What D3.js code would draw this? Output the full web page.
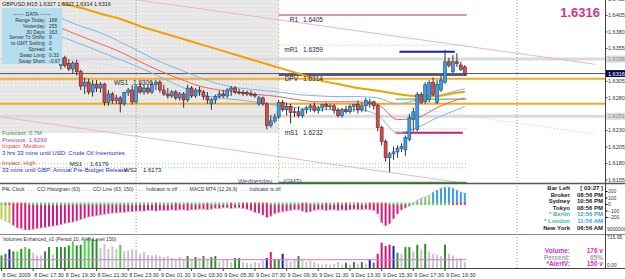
<!DOCTYPE html>
<html lang="en">
<head>
<meta charset="UTF-8">
<title>GBPUSD,M15</title>
<script src="https://d3js.org/d3.v7.min.js"></script>
<style>
  body { margin: 0; padding: 0; background: #fff; }
  svg { display: block; font-family: "Liberation Sans", Arial, sans-serif; }
</style>
</head>
<body>
<script>
// ---- data ----
var firstCandle = 15;   // bars before this are hidden behind the info box
var openP = [1.6328,1.6340,1.6331,1.6323,1.6332, 1.6319,1.6297,1.6303,1.6288,1.6300,
  1.6294,1.6300,1.6272,1.6285,1.6275, 1.6279,1.6270,1.6287,1.6291,1.6273,
  1.6296,1.6288,1.6294,1.6288,1.6299, 1.6303,1.6291,1.6285,1.6282,1.6288,
  1.6279,1.6285,1.6276,1.6294,1.6282, 1.6291,1.6288,1.6281,1.6270,1.6276,
  1.6281,1.6285,1.6282,1.6291,1.6294, 1.6288,1.6287,1.6287,1.6285,1.6284,
  1.6270,1.6279,1.6270,1.6237,1.6244, 1.6250,1.6272,1.6261,1.6266,1.6257,
  1.6258,1.6252,1.6261,1.6264,1.6267, 1.6260,1.6264,1.6269,1.6266,1.6267,
  1.6260,1.6252,1.6261,1.6258,1.6266, 1.6269,1.6261,1.6267,1.6270,1.6273,
  1.6267,1.6234,1.6213,1.6188,1.6194, 1.6197,1.6202,1.6200,1.6216,1.6246,
  1.6231,1.6284,1.6273,1.6276,1.6303, 1.6272,1.6291,1.6303,1.6334,1.6319,
  1.6334,1.6329,1.6326];
var highP = [1.6344,1.6343,1.6338,1.6335,1.6337, 1.6322,1.6310,1.6308,1.6306,1.6306,
  1.6303,1.6302,1.6291,1.6288,1.6284, 1.6282,1.6288,1.6294,1.6299,1.6300,
  1.6302,1.6299,1.6299,1.6303,1.6306, 1.6306,1.6299,1.6294,1.6291,1.6291,
  1.6288,1.6288,1.6299,1.6297,1.6294, 1.6296,1.6291,1.6288,1.6279,1.6284,
  1.6290,1.6291,1.6294,1.6297,1.6297, 1.6293,1.6291,1.6290,1.6290,1.6287,
  1.6282,1.6281,1.6272,1.6253,1.6255, 1.6276,1.6276,1.6272,1.6270,1.6264,
  1.6266,1.6263,1.6267,1.6270,1.6272, 1.6267,1.6270,1.6272,1.6270,1.6270,
  1.6264,1.6264,1.6267,1.6269,1.6270, 1.6275,1.6272,1.6279,1.6278,1.6275,
  1.6270,1.6237,1.6216,1.6197,1.6205, 1.6207,1.6210,1.6222,1.6255,1.6264,
  1.6288,1.6288,1.6303,1.6306,1.6310, 1.6306,1.6313,1.6352,1.6340,1.6344,
  1.6347,1.6334,1.6329];
var lowP = [1.6322,1.6325,1.6320,1.6316,1.6313, 1.6291,1.6285,1.6284,1.6281,1.6288,
  1.6287,1.6267,1.6267,1.6270,1.6270, 1.6257,1.6267,1.6282,1.6269,1.6270,
  1.6285,1.6284,1.6285,1.6285,1.6291, 1.6287,1.6282,1.6278,1.6279,1.6276,
  1.6275,1.6264,1.6273,1.6279,1.6279, 1.6282,1.6276,1.6270,1.6261,1.6270,
  1.6278,1.6279,1.6279,1.6282,1.6285, 1.6284,1.6282,1.6282,1.6281,1.6279,
  1.6267,1.6267,1.6231,1.6234,1.6241, 1.6247,1.6258,1.6252,1.6240,1.6250,
  1.6249,1.6249,1.6255,1.6258,1.6257, 1.6255,1.6258,1.6261,1.6261,1.6255,
  1.6249,1.6249,1.6255,1.6255,1.6258, 1.6255,1.6257,1.6258,1.6264,1.6261,
  1.6228,1.6207,1.6182,1.6166,1.6185, 1.6188,1.6197,1.6191,1.6213,1.6228,
  1.6228,1.6270,1.6270,1.6272,1.6282, 1.6270,1.6288,1.6300,1.6325,1.6316,
  1.6326,1.6320,1.6313];
var closeP = [1.6340,1.6328,1.6323,1.6332,1.6319, 1.6297,1.6303,1.6288,1.6300,1.6294,
  1.6300,1.6272,1.6285,1.6275,1.6279, 1.6270,1.6287,1.6291,1.6273,1.6296,
  1.6288,1.6294,1.6288,1.6299,1.6303, 1.6291,1.6285,1.6282,1.6288,1.6279,
  1.6285,1.6276,1.6294,1.6282,1.6291, 1.6288,1.6281,1.6276,1.6276,1.6281,
  1.6285,1.6282,1.6291,1.6294,1.6288, 1.6287,1.6286,1.6285,1.6284,1.6282,
  1.6279,1.6270,1.6237,1.6244,1.6250, 1.6272,1.6261,1.6266,1.6257,1.6258,
  1.6252,1.6261,1.6264,1.6267,1.6260, 1.6264,1.6269,1.6266,1.6267,1.6260,
  1.6252,1.6261,1.6258,1.6266,1.6269, 1.6261,1.6267,1.6275,1.6273,1.6267,
  1.6234,1.6213,1.6188,1.6194,1.6197, 1.6202,1.6205,1.6219,1.6249,1.6258,
  1.6284,1.6272,1.6299,1.6302,1.6284, 1.6300,1.6306,1.6334,1.6328,1.6334,
  1.6331,1.6322,1.6316];

// moving averages, read every 5 bars
var maBars   = [15,20,25,30,35,40,45,50,55,60,65,70,75,80,85,90,95,100,105,110,115,117];
var maSlow   = [1.6423,1.6416,1.6407,1.6399,1.6388,1.6379,1.6370,1.6361,1.6352,1.6343,1.6334,
                1.6325,1.6316,1.6306,1.6300,1.6294,1.6290,1.6285,1.6282,1.6282,1.6287,1.6288];
var bandUp   = [1.6400,1.6388,1.6378,1.6364,1.6349,1.6334,1.6322,1.6310,1.6300,1.6294,1.6291,
                1.6288,1.6284,1.6282,1.6281,1.6281,1.6279,1.6270,1.6276,1.6282,1.6290,1.6293];
var bandMid  = [1.6385,1.6373,1.6361,1.6349,1.6334,1.6320,1.6308,1.6297,1.6291,1.6287,1.6284,
                1.6281,1.6276,1.6273,1.6273,1.6273,1.6269,1.6246,1.6249,1.6264,1.6276,1.6279];
var bandLow  = [1.6372,1.6361,1.6349,1.6337,1.6325,1.6311,1.6297,1.6285,1.6279,1.6276,1.6272,
                1.6267,1.6264,1.6261,1.6261,1.6261,1.6253,1.6226,1.6234,1.6249,1.6261,1.6266];

// channel (bar index -> price at both ends)
var channelBars = [0, 150];
var channelTop  = [1.6457, 1.6330];
var channelMid  = [1.6352, 1.6224];
var channelBot  = [1.6250, 1.6121];

// pivot levels
var pivotNames  = ["R1", "mR1", "DPV", "mS1"];
var pivotValues = [1.6405, 1.6359, 1.6314, 1.6232];
var lowerNames  = ["MS1", "WS2"];
var lowerValues = [1.6179, 1.6173];
var ws1Value = 1.6306;
var orangeLevels = [1.6308, 1.6270];
var greyLevels = [1.6338, 1.6251];
var bid = 1.6316;
var dayHigh = 1.6349, dayLow = 1.6226, dayMid = 1.6277, dayLine = 1.6150;

var priceTicks = [1.6430,1.6405,1.6380,1.6355,1.6305,1.6280,1.6230,1.6205,1.6180,1.6155];
var timeLabels = ["8 Dec 2009","8 Dec 17:30","8 Dec 19:30","8 Dec 21:30","8 Dec 23:30","9 Dec 01:30",
  "9 Dec 03:30","9 Dec 05:30","9 Dec 07:30","9 Dec 09:30","9 Dec 11:30","9 Dec 13:30",
  "9 Dec 15:30","9 Dec 17:30","9 Dec 19:30"];

var cci = [-230,-260,-290,-330,-370,-380,-400,-400,-390,-380,
  -370,-360,-350,-340,-330,-320,-300,-290,-280,-260,
  -240,-220,-200,-190,-180,-170,-160,-150,-140,-140,
  -130,-130,-120,-120,-110,-110,-110,-100,-100,-110,
  -100,-100,-100,-90,-100,-90,-90,-100,-90,-90,
  -80,-80,-90,-80,-70,-70,-60,-60,-70,-60,
  -60,-70,-80,-100,-130,-140,-170,-210,-190,-150,
  -130,-120,-110,-100,-90,-90,-110,-130,-120,-100,
  -90,-90,-100,-90,-90,-100,-90,-100,-90,-80,
  -90,-90,-80,-90,-100,-154,-292,-338,-308,-231,
  -154,-92,-62,-31,8,60,92,108,138,185,
  215,246,262,262,246,215,185,170];
var cciKind = "yyy" + "m".repeat(101) + "nnnnl" + "bbbbbbbbb";
var cciTicks = [200, 100, 0, -100, -200];

var volume = [228,257,337,300,300,347,378,347,275,228,
  228,300,378,240,378,378,378,408,480,408,
  420,498,558,527,509,360,437,347,390,347,
  420,300,318,337,318,257,288,240,228,240,
  210,198,216,180,167,198,167,216,167,198,
  180,216,167,198,216,120,138,156,108,180,
  180,108,90,78,108,90,138,180,288,167,
  156,257,167,120,156,216,167,108,132,108,
  78,60,78,60,78,108,60,96,60,108,
  78,108,78,150,96,257,455,396,420,396,
  275,257,378,378,300,420,348,437,300,257,
  240,216,420,257,228,167,180,108];
var volKind = "ggbglglgnn" + "nggnggggl g".replace(" ", "") + "gllggnnnnn" + "lnnnnnnnnn" +
  "nnnnnnngng" + "ngnggnnnng" + "gnnnnnnbrg" + "gbnnngnnnn" + "nnnnnnngng" +
  "ngnbgmmmmb" + "gnggngngnn" + "nngnnnnn";
var alertLevel = 150;

var clockNames  = ["Bar Left", "Broker", "Sydney", "Tokyo", "* Berlin", "* London", "New York"];
var clockValues = ["[ 03:27 ]", "08:56 PM", "10:56 PM", "08:56 PM", "12:56 PM", "11:56 AM", "06:56 AM"];
var dataNames  = ["Range Today:", "Yesterday:", "30 Days:", "Server Tz Shifts:", "to GMT Setting:", "Spread:", "Swap Long:", "Swap Short:"];
var dataValues = ["188", "255", "163", "9", "0", "4", "0.33", "-0.67"];

// ---- layout ----
var W = 625, H = 279;
var axisX = 605;
var mainBottom = 183, cciTop = 184, cciBottom = 234, volTop = 235, volBottom = 268;

var svg = d3.select('body').append('svg').attr('width', W).attr('height', H);
var defs = svg.append('defs');
var pat = defs.append('pattern').attr('id', 'dots').attr('width', 4).attr('height', 4)
  .attr('patternUnits', 'userSpaceOnUse');
pat.append('rect').attr('width', 4).attr('height', 4).attr('fill', '#e6e6e6');
pat.append('rect').attr('x', 1).attr('y', 1).attr('width', 1).attr('height', 1).attr('fill', '#ffffff');
defs.append('clipPath').attr('id', 'clipMain').append('rect').attr('width', axisX).attr('height', mainBottom);
defs.append('clipPath').attr('id', 'clipCci').append('rect').attr('y', cciTop).attr('width', axisX).attr('height', cciBottom - cciTop);
defs.append('clipPath').attr('id', 'clipVol').append('rect').attr('y', volTop).attr('width', axisX).attr('height', volBottom - volTop);

var x = d3.scaleLinear().domain([0, 117]).range([1.5, 464.8]);
var y = d3.scaleLinear().domain([1.6155, 1.6405]).range([179.5, 15]);
var yCci = d3.scaleLinear().domain([0, 100]).range([204, 197.5]);
var yVol = d3.scaleLinear().domain([0, 560]).range([volBottom, 237]);

var main = svg.append('g').attr('clip-path', 'url(#clipMain)');

// shaded previous-day area
main.append('rect').attr('x', 0).attr('y', 0).attr('width', x(70)).attr('height', 133).attr('fill', 'url(#dots)');

greyLevels.forEach(function(p) {
  main.append('line').attr('x1', 0).attr('x2', axisX).attr('y1', y(p)).attr('y2', y(p))
    .attr('stroke', '#dadada').attr('stroke-width', 3);
});

// grid + day separator
[34, 130.2].forEach(function(b) {
  svg.append('line').attr('x1', x(b)).attr('x2', x(b)).attr('y1', 0).attr('y2', volBottom)
    .attr('stroke', '#999').attr('stroke-dasharray', '1,2');
});
main.append('line').attr('x1', x(70)).attr('x2', x(70)).attr('y1', 0).attr('y2', mainBottom)
  .attr('stroke', '#c8c890').attr('stroke-dasharray', '2,2');

// channel lines
[[channelTop, null], [channelMid, '1,2'], [channelBot, null]].forEach(function(c) {
  main.append('line')
    .attr('x1', x(channelBars[0])).attr('y1', y(c[0][0]))
    .attr('x2', x(channelBars[1])).attr('y2', y(c[0][1]))
    .attr('stroke', '#e6b4dc').attr('stroke-width', 1)
    .attr('stroke-dasharray', c[1]);
});

// full width lines
orangeLevels.forEach(function(p) {
  main.append('line').attr('x1', 0).attr('x2', axisX).attr('y1', y(p)).attr('y2', y(p))
    .attr('stroke', '#f7a823').attr('stroke-width', 2);
});
main.append('line').attr('x1', 0).attr('x2', axisX).attr('y1', y(bid)).attr('y2', y(bid))
  .attr('stroke', '#555').attr('stroke-width', 1);

// pivots (today only)
var px0 = x(70), px1 = x(117.5);
function level(p, color, width, dash, a, b) {
  main.append('line').attr('x1', a).attr('x2', b).attr('y1', y(p)).attr('y2', y(p))
    .attr('stroke', color).attr('stroke-width', width).attr('stroke-dasharray', dash);
}
level(pivotValues[0], '#b02a5c', 1.2, null, px0, px1);
level(pivotValues[1], '#c8c88c', 1.2, '1,2', px0, px1);
level(pivotValues[2], '#1e1e6e', 1.5, null, px0, px1);
level(pivotValues[3], '#c8c88c', 1.2, '1,2', px0, px1);
level(ws1Value, '#c8c88c', 1, '1,2', 0, px0);
lowerValues.forEach(function(p) { level(p, '#9fe09f', 1.2, '1,2', 0, px1); });
level(dayLine, '#3aaa3a', 2, null, px0, px1);
level(dayHigh, '#1f1fa8', 2, null, x(100.5), x(114.5));
level(dayLow, '#cc1a73', 2, null, x(99.5), x(116.5));
level(dayMid, '#66bb66', 1.2, null, x(99.5), x(117.5));

// moving averages
var maLine = d3.line().curve(d3.curveMonotoneX)
  .x(function(d) { return x(d[0]); }).y(function(d) { return y(d[1]); });
[[bandUp, '#7ab8ee', 1], [bandLow, '#7ab8ee', 1], [bandMid, '#ee5f5f', 1], [maSlow, '#f5a000', 2]].forEach(function(m) {
  main.append('path').datum(d3.zip(maBars, m[0])).attr('d', maLine)
    .attr('fill', 'none').attr('stroke', m[1]).attr('stroke-width', m[2]);
});

// candles
var candles = openP.map(function(o, k) {
  return { i: k + firstCandle, o: o, h: highP[k], l: lowP[k], c: closeP[k] };
});
var cg = main.append('g');
cg.selectAll('line').data(candles).enter().append('line')
  .attr('x1', function(d) { return x(d.i); }).attr('x2', function(d) { return x(d.i); })
  .attr('y1', function(d) { return y(d.h); }).attr('y2', function(d) { return y(d.l); })
  .attr('stroke', '#333').attr('stroke-width', 1);
cg.selectAll('rect').data(candles).enter().append('rect')
  .attr('x', function(d) { return x(d.i) - 1.5; }).attr('width', 3)
  .attr('y', function(d) { return y(Math.max(d.o, d.c)); })
  .attr('height', function(d) { return Math.max(1, Math.abs(y(d.o) - y(d.c))); })
  .attr('fill', function(d) { return d.c >= d.o ? '#3b9ee0' : '#dc4b4b'; })
  .attr('stroke', function(d) { return d.c >= d.o ? '#1d4f7a' : '#5a1f1f'; })
  .attr('stroke-width', 0.6);

// labels on levels
var lab = main.append('g').attr('font-size', '6.5px').attr('fill', '#22224a');
pivotNames.forEach(function(n, k) {
  var ly = y(pivotValues[k]) + 6.5;
  lab.append('text').attr('x', 298).attr('y', ly).attr('text-anchor', 'end').text(n);
  lab.append('text').attr('x', 303).attr('y', ly).text(d3.format('.4f')(pivotValues[k]));
});
lab.append('text').attr('x', 128).attr('y', y(ws1Value) + 5).attr('text-anchor', 'end').text('WS1');
lab.append('text').attr('x', 133).attr('y', y(ws1Value) + 5).text(d3.format('.4f')(ws1Value));

// news block
var news = [
  ["Forecast: 0.7M", '#2e9e2e'], ["Previous: 1.6290", '#9a3bc8'], ["Impact: Medium", '#f03c3c'],
  ["3 hrs 33 mins until USD: Crude Oil Inventories", '#2a2ad0'], ["", ''],
  ["Impact: High", '#f03c3c'], ["33 mins until GBP: Annual Pre-Budget Release", '#2a2ad0']];
var newsY = [135, 141.5, 148, 154.5, 0, 165, 171.5];
news.forEach(function(n, k) {
  if (!n[0]) return;
  main.append('text').attr('x', 2).attr('y', newsY[k]).attr('font-size', '6px').attr('fill', n[1]).text(n[0]);
});
[["MS1", 82, 87, lowerValues[0], 166], ["WS2", 137, 140, lowerValues[1], 172]].forEach(function(l) {
  main.append('text').attr('x', l[1]).attr('y', l[4]).attr('text-anchor', 'end').attr('font-size', '6px').attr('fill', '#22224a').text(l[0]);
  main.append('text').attr('x', l[2] + 3).attr('y', l[4]).attr('font-size', '6px').attr('fill', '#22224a').text(d3.format('.4f')(l[3]));
});
main.append('text').attr('x', 238).attr('y', 184).attr('font-size', '6.5px').attr('fill', '#4a4a90').text('Wednesday');
main.append('text').attr('x', 283).attr('y', 184).attr('font-size', '6.5px').attr('fill', '#4a4a90').text('(GMT)');

// info box
svg.append('rect').attr('x', 2).attr('y', 8).attr('width', 60).attr('height', 56).attr('fill', '#b4def0');
svg.append('text').attr('x', 32).attr('y', 16).attr('text-anchor', 'middle').attr('font-size', '5px').attr('fill', '#333')
  .text('------- DATA -------');
dataNames.forEach(function(n, k) {
  svg.append('text').attr('x', 46).attr('y', 22 + k * 5.8).attr('text-anchor', 'end').attr('font-size', '5px').attr('fill', '#333').text(n);
  svg.append('text').attr('x', 49).attr('y', 22 + k * 5.8).attr('font-size', '5px').attr('fill', '#333').text(dataValues[k]);
});

// title + big price
svg.append('text').attr('x', 2).attr('y', 6).attr('font-size', '5.5px').attr('fill', '#222')
  .text('GBPUSD,M15  1.6327 1.6327 1.6314 1.6316');
svg.append('text').attr('x', 600).attr('y', 17).attr('text-anchor', 'end').attr('font-size', '13px')
  .attr('font-weight', 'bold').attr('fill', '#d2348c').text(d3.format('.4f')(bid));

// ---- CCI panel ----
var cciG = svg.append('g').attr('clip-path', 'url(#clipCci)');
var cciColor = { y: '#b6cc4c', m: '#d2187f', n: '#a8a8a8', l: '#88dd66', b: '#3d9cf0' };
cciG.selectAll('rect.bar').data(cci).enter().append('rect').attr('class', 'bar')
  .attr('x', function(d, i) { return x(i) - 1; }).attr('width', 2)
  .attr('y', function(d) { return Math.min(yCci(0), yCci(d)); })
  .attr('height', function(d) { return Math.abs(yCci(d) - yCci(0)); })
  .attr('fill', function(d, i) { return cciColor[cciKind[i]]; });
cciG.append('path').datum(cci)
  .attr('d', d3.line().x(function(d, i) { return x(i); }).y(function(d) { return yCci(d); }))
  .attr('fill', 'none').attr('stroke', '#c8c8c8').attr('stroke-width', 0.8);
cciG.selectAll('rect.tip').data(cci).enter().append('rect').attr('class', 'tip')
  .attr('x', function(d, i) { return x(i) - 1; }).attr('width', 2)
  .attr('y', yCci(0) - 1.5).attr('height', 2.5)
  .attr('fill', function(d, i) { return i > 0 && d < cci[i - 1] ? '#f04848' : '#5cd65c'; });

svg.append('text').attr('x', 2).attr('y', 191).attr('font-size', '5px').attr('fill', '#333')
  .attr('xml:space', 'preserve')
  .text('P4L Clock  . . .  CCI Histogram (63)  . . .  CCI Line (63, 150)  . . .  Indicator is off  . . .  MACD MT4 (12,26,9)  . . .  Indicator is off');

// clock
clockNames.forEach(function(n, k) {
  var cy = 190 + k * 6.6;
  var c1 = (k === 4 || k === 5) ? '#33bb99' : '#222';
  var c2 = (k === 4 || k === 5) ? '#3aa0e8' : '#222';
  svg.append('text').attr('x', 570).attr('y', cy).attr('text-anchor', 'end').attr('font-size', '6px')
    .attr('font-weight', 'bold').attr('fill', c1).text(n);
  svg.append('text').attr('x', 603).attr('y', cy).attr('text-anchor', 'end').attr('font-size', '6px')
    .attr('font-weight', 'bold').attr('fill', c2).text(clockValues[k]);
});

// ---- volume panel ----
var volG = svg.append('g').attr('clip-path', 'url(#clipVol)');
var volColor = { g: '#2f8f2f', l: '#45d845', b: '#1c1cb0', r: '#e21e5a', m: '#cf1276', n: '#c6c6c6' };
volG.selectAll('rect').data(volume).enter().append('rect')
  .attr('x', function(d, i) { return x(i) - 1; }).attr('width', 2)
  .attr('y', function(d) { return yVol(d); })
  .attr('height', function(d) { return yVol(0) - yVol(d); })
  .attr('fill', function(d, i) { return volColor[volKind[i]]; });
volG.append('line').attr('x1', 0).attr('x2', x(117.5)).attr('y1', yVol(alertLevel)).attr('y2', yVol(alertLevel))
  .attr('stroke', '#e070e0').attr('stroke-width', 1);
svg.append('text').attr('x', 3).attr('y', 240.5).attr('font-size', '5px').attr('fill', '#333')
  .text('Volumes Enhanced_v2 (Period 10, Alert Level 150)');

var volInfo = [["Volume:", "176 v", '#cc33cc'], ["Percent:", "65%", '#a0a0a0'], ["*AlertV:", alertLevel + " v", '#cc33cc']];
volInfo.forEach(function(v, k) {
  var vy = 253 + k * 6.5;
  svg.append('text').attr('x', 570).attr('y', vy).attr('text-anchor', 'end').attr('font-size', '6.5px')
    .attr('font-weight', 'bold').attr('fill', v[2]).text(v[0]);
  svg.append('text').attr('x', 603).attr('y', vy).attr('text-anchor', 'end').attr('font-size', '6.5px')
    .attr('font-weight', 'bold').attr('fill', v[2]).text(v[1]);
});

// ---- frames ----
svg.append('line').attr('x1', 0).attr('x2', W).attr('y1', mainBottom + 0.5).attr('y2', mainBottom + 0.5)
  .attr('stroke', '#555').attr('stroke-width', 1.5);
svg.append('line').attr('x1', 0).attr('x2', W).attr('y1', cciBottom + 0.5).attr('y2', cciBottom + 0.5)
  .attr('stroke', '#888').attr('stroke-width', 1);
svg.append('line').attr('x1', 0).attr('x2', W).attr('y1', volBottom + 0.5).attr('y2', volBottom + 0.5)
  .attr('stroke', '#444').attr('stroke-width', 1);
svg.append('line').attr('x1', axisX + 0.5).attr('x2', axisX + 0.5).attr('y1', 0).attr('y2', volBottom)
  .attr('stroke', '#444').attr('stroke-width', 1);

// price axis
var pAxis = svg.append('g').attr('transform', 'translate(' + (axisX + 0.5) + ',0)')
  .call(d3.axisRight(y).tickValues(priceTicks).tickSize(2).tickFormat(d3.format('.4f')));
pAxis.select('.domain').remove();
pAxis.selectAll('text').attr('font-size', '5.5px').attr('fill', '#333').attr('x', 2.5)
  .attr('font-family', '"Liberation Sans", Arial, sans-serif');
pAxis.selectAll('line').attr('stroke', '#444');

// highlighted price tags
[[greyLevels[0], '#dcdcdc', '#888'], [greyLevels[1], '#dcdcdc', '#888'], [bid, '#0a0a50', '#fff']].forEach(function(t) {
  svg.append('rect').attr('x', axisX + 1).attr('y', y(t[0]) - 3.5).attr('width', 19).attr('height', 7).attr('fill', t[1]);
  svg.append('text').attr('x', axisX + 3).attr('y', y(t[0]) + 2).attr('font-size', '5.5px').attr('fill', t[2])
    .text(d3.format('.4f')(t[0]));
});

// CCI axis
var cAxis = svg.append('g').attr('transform', 'translate(' + (axisX + 0.5) + ',0)')
  .call(d3.axisRight(yCci).tickValues(cciTicks).tickSize(2));
cAxis.select('.domain').remove();
cAxis.selectAll('text').attr('font-size', '5px').attr('fill', '#333').attr('x', 2.5);
svg.append('text').attr('x', axisX + 2).attr('y', 231).attr('font-size', '5px').attr('fill', '#333').text('9000000');
svg.append('text').attr('x', axisX + 2).attr('y', 239).attr('font-size', '5px').attr('fill', '#333').text('715.95');
svg.append('text').attr('x', axisX + 2).attr('y', 267).attr('font-size', '5px').attr('fill', '#333').text('0.00');

// time axis
var tg = svg.append('g');
timeLabels.forEach(function(t, k) {
  var tx = x(k * 8);
  tg.append('line').attr('x1', tx).attr('x2', tx).attr('y1', volBottom + 1).attr('y2', volBottom + 3).attr('stroke', '#444');
  tg.append('text').attr('x', tx + 1).attr('y', 276.5).attr('font-size', '5.5px').attr('fill', '#333').text(t);
});
</script>
</body>
</html>
